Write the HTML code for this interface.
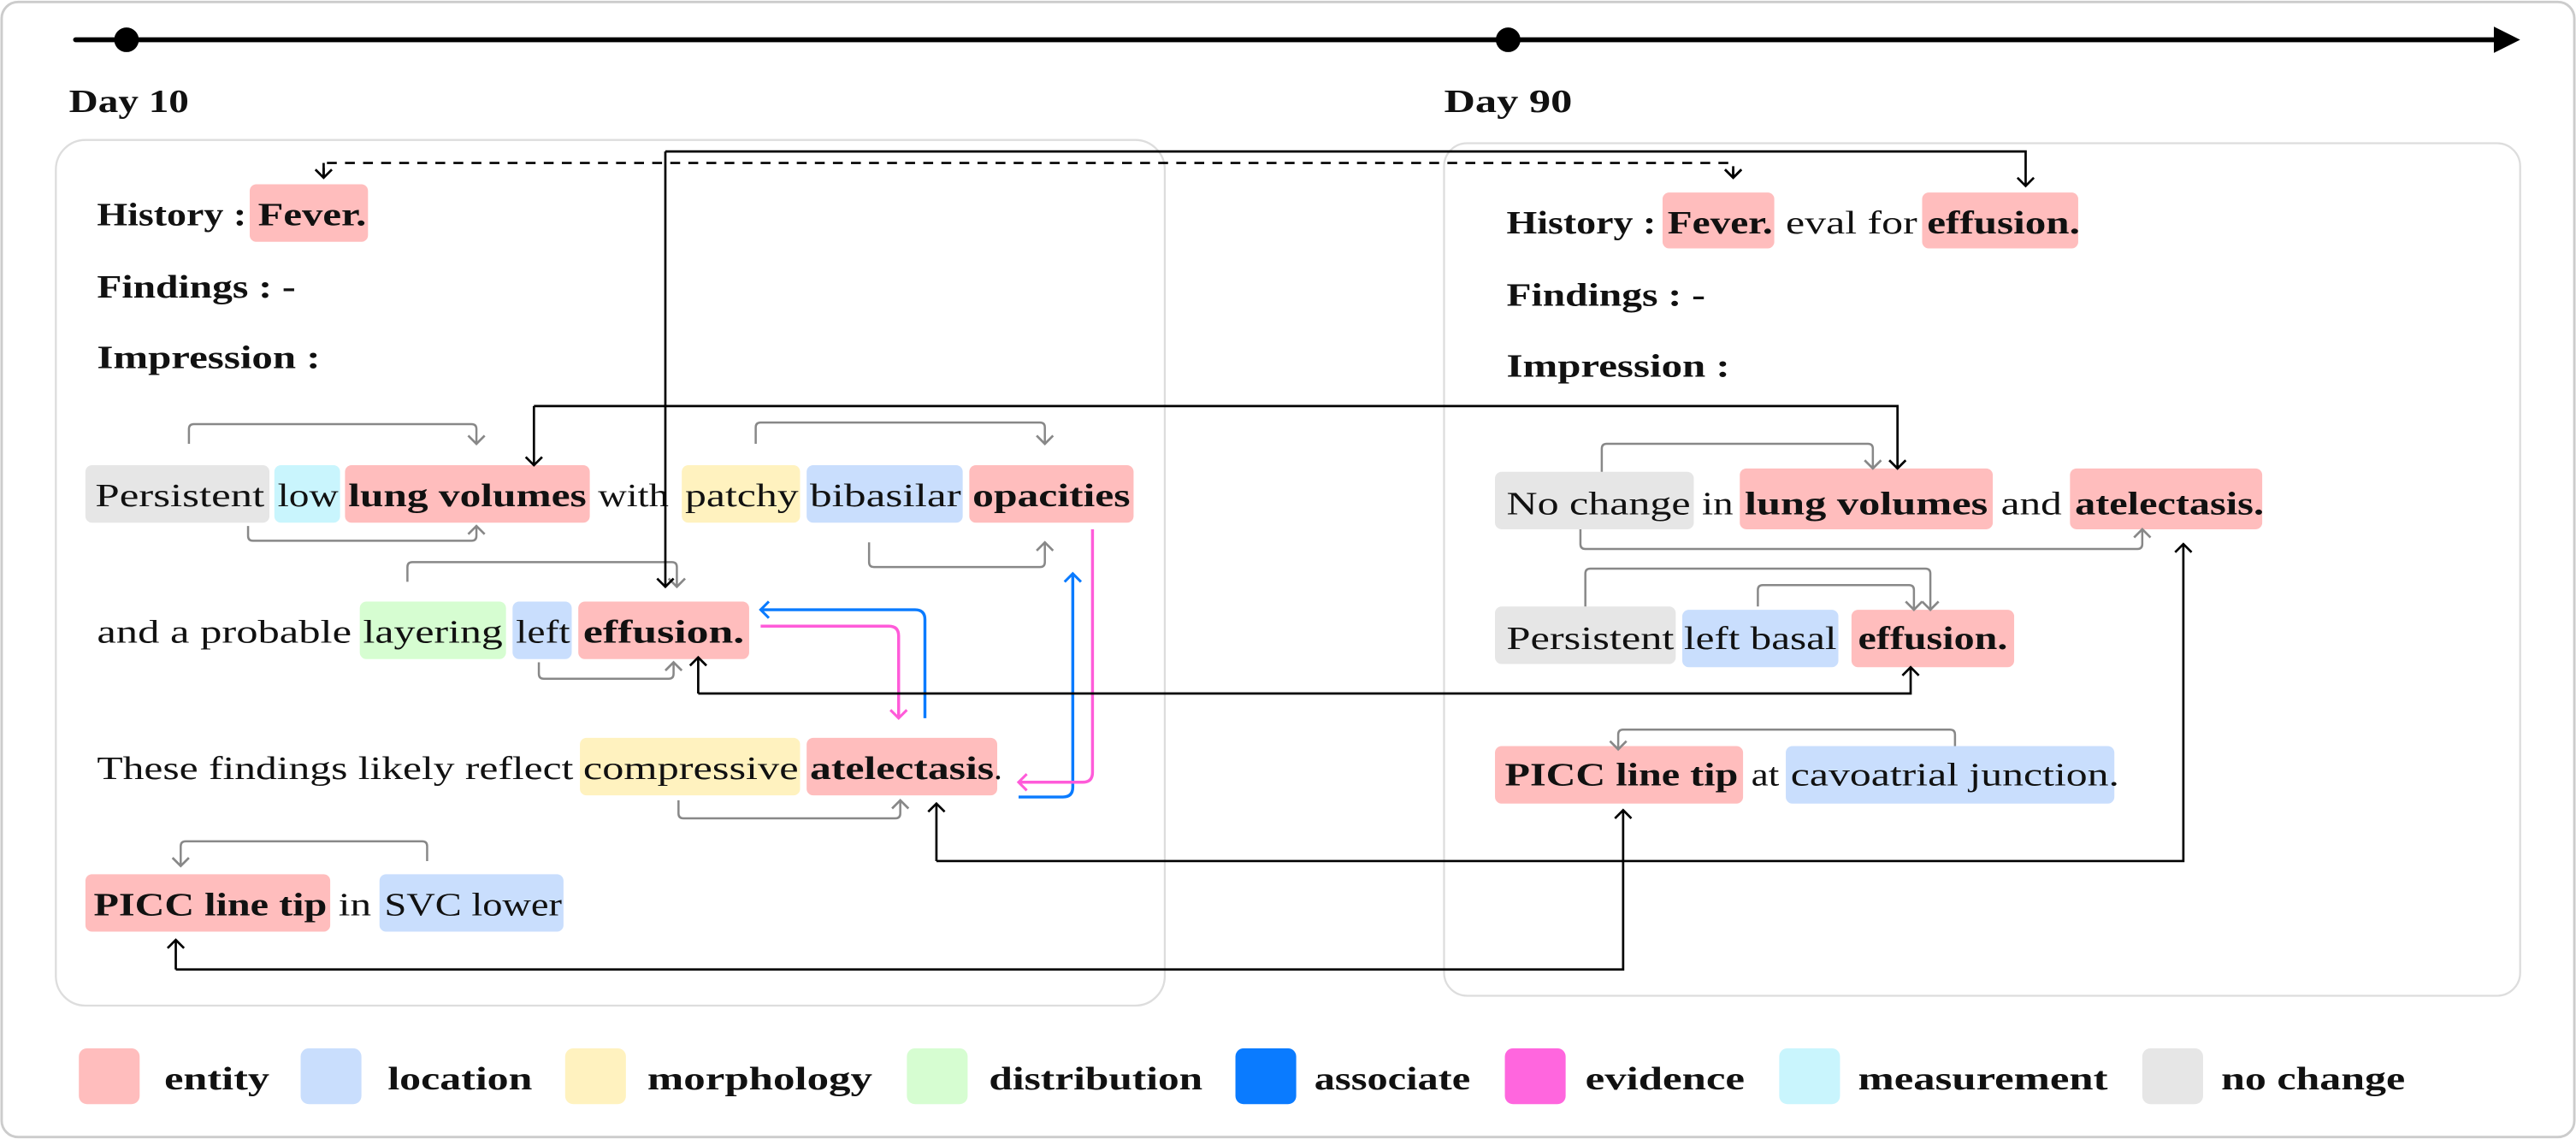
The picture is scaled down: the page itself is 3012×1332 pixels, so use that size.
<!DOCTYPE html>
<html><head><meta charset="utf-8"><style>
html,body{margin:0;padding:0;background:#fff;}
svg{display:block;}
text{font-family:"Liberation Serif",serif;font-size:20px;fill:#111;}
.b{font-weight:bold;}
.lg{font-weight:bold;font-size:20px;}
</style></head><body>
<svg width="3012" height="1332" viewBox="0 0 1568 693" xmlns="http://www.w3.org/2000/svg">
<defs>
<marker id="ak" markerUnits="userSpaceOnUse" markerWidth="14" markerHeight="14" refX="7" refY="7" orient="auto"><path d="M2,2 L7,7 L2,12" fill="none" stroke="#000" stroke-width="1.4"/></marker>
<marker id="ag" markerUnits="userSpaceOnUse" markerWidth="14" markerHeight="14" refX="7" refY="7" orient="auto"><path d="M2,2 L7,7 L2,12" fill="none" stroke="#888" stroke-width="1.4"/></marker>
<marker id="ab" markerUnits="userSpaceOnUse" markerWidth="14" markerHeight="14" refX="7" refY="7" orient="auto"><path d="M2,2 L7,7 L2,12" fill="none" stroke="#0a7bff" stroke-width="1.6"/></marker>
<marker id="am" markerUnits="userSpaceOnUse" markerWidth="14" markerHeight="14" refX="7" refY="7" orient="auto"><path d="M2,2 L7,7 L2,12" fill="none" stroke="#ff5bd9" stroke-width="1.6"/></marker>
</defs>
<rect x="1" y="1" width="1566" height="691" rx="10" fill="#fff" stroke="#ccc" stroke-width="1.5"/>
<!-- timeline -->
<line x1="46" y1="24" x2="1520" y2="24" stroke="#000" stroke-width="3" stroke-linecap="round"/>
<polygon points="1518,16 1534,24 1518,32" fill="#000"/>
<circle cx="77" cy="24" r="7.5" fill="#000"/>
<circle cx="918" cy="24" r="7.5" fill="#000"/>
<text x="42" y="68" class="b" textLength="73" lengthAdjust="spacingAndGlyphs">Day 10</text>
<text x="879" y="68" class="b" textLength="78" lengthAdjust="spacingAndGlyphs">Day 90</text>
<!-- panels -->
<rect x="34" y="85" width="675" height="527" rx="18" fill="none" stroke="#ddd" stroke-width="1.2"/>
<rect x="879" y="87" width="655" height="519" rx="14" fill="none" stroke="#ddd" stroke-width="1.2"/>

<!-- LEFT boxes -->
<g>
<rect x="152" y="112" width="72" height="35" rx="4" fill="#ffbdbd"/>
<rect x="52" y="283" width="112" height="35" rx="4" fill="#e6e6e6"/>
<rect x="167" y="283" width="40" height="35" rx="4" fill="#c9f5fd"/>
<rect x="210" y="283" width="149" height="35" rx="4" fill="#ffbdbd"/>
<rect x="415" y="283" width="72" height="35" rx="4" fill="#fff2bf"/>
<rect x="491" y="283" width="95" height="35" rx="4" fill="#c9defd"/>
<rect x="590" y="283" width="100" height="35" rx="4" fill="#ffbdbd"/>
<rect x="219" y="366" width="89" height="35" rx="4" fill="#d6fdd1"/>
<rect x="312" y="366" width="36" height="35" rx="4" fill="#c9defd"/>
<rect x="352" y="366" width="104" height="35" rx="4" fill="#ffbdbd"/>
<rect x="353" y="449" width="134" height="35" rx="4" fill="#fff2bf"/>
<rect x="491" y="449" width="116" height="35" rx="4" fill="#ffbdbd"/>
<rect x="52" y="532" width="149" height="35" rx="4" fill="#ffbdbd"/>
<rect x="231" y="532" width="112" height="35" rx="4" fill="#c9defd"/>
</g>
<text x="59" y="137" class="b" textLength="91" lengthAdjust="spacingAndGlyphs">History :</text>
<text x="157" y="137" class="b" textLength="66" lengthAdjust="spacingAndGlyphs">Fever.</text>
<text x="59" y="181" class="b" textLength="121" lengthAdjust="spacingAndGlyphs">Findings : -</text>
<text x="59" y="224" class="b" textLength="136" lengthAdjust="spacingAndGlyphs">Impression :</text>

<text x="58" y="308" textLength="103" lengthAdjust="spacingAndGlyphs">Persistent</text>
<text x="169" y="308" textLength="37" lengthAdjust="spacingAndGlyphs">low</text>
<text x="212" y="308" class="b" textLength="145" lengthAdjust="spacingAndGlyphs">lung volumes</text>
<text x="364" y="308" textLength="43" lengthAdjust="spacingAndGlyphs">with</text>
<text x="417" y="308" textLength="69" lengthAdjust="spacingAndGlyphs">patchy</text>
<text x="493" y="308" textLength="92" lengthAdjust="spacingAndGlyphs">bibasilar</text>
<text x="592" y="308" class="b" textLength="96" lengthAdjust="spacingAndGlyphs">opacities</text>

<text x="59" y="391" textLength="155" lengthAdjust="spacingAndGlyphs">and a probable</text>
<text x="221" y="391" textLength="85" lengthAdjust="spacingAndGlyphs">layering</text>
<text x="314" y="391" textLength="33" lengthAdjust="spacingAndGlyphs">left</text>
<text x="355" y="391" class="b" textLength="98" lengthAdjust="spacingAndGlyphs">effusion.</text>

<text x="59" y="474" textLength="290" lengthAdjust="spacingAndGlyphs">These findings likely reflect</text>
<text x="355" y="474" textLength="131" lengthAdjust="spacingAndGlyphs">compressive</text>
<text x="493" y="474" class="b" textLength="112" lengthAdjust="spacingAndGlyphs">atelectasis</text>
<text x="605" y="474">.</text>

<text x="57" y="557" class="b" textLength="142" lengthAdjust="spacingAndGlyphs">PICC line tip</text>
<text x="206" y="557" textLength="20" lengthAdjust="spacingAndGlyphs">in</text>
<text x="234" y="557" textLength="108" lengthAdjust="spacingAndGlyphs">SVC lower</text>

<!-- RIGHT boxes -->
<rect x="1012" y="117" width="68" height="34" rx="4" fill="#ffbdbd"/>
<rect x="1170" y="117" width="95" height="34" rx="4" fill="#ffbdbd"/>
<rect x="910" y="287" width="121" height="35" rx="4" fill="#e6e6e6"/>
<rect x="1059" y="285" width="154" height="37" rx="4" fill="#ffbdbd"/>
<rect x="1260" y="285" width="117" height="37" rx="4" fill="#ffbdbd"/>
<rect x="910" y="369" width="110" height="35" rx="4" fill="#e6e6e6"/>
<rect x="1024" y="371" width="95" height="35" rx="4" fill="#c9defd"/>
<rect x="1127" y="371" width="99" height="35" rx="4" fill="#ffbdbd"/>
<rect x="910" y="454" width="151" height="35" rx="4" fill="#ffbdbd"/>
<rect x="1087" y="454" width="200" height="35" rx="4" fill="#c9defd"/>

<text x="917" y="142" class="b" textLength="91" lengthAdjust="spacingAndGlyphs">History :</text>
<text x="1015" y="142" class="b" textLength="64" lengthAdjust="spacingAndGlyphs">Fever.</text>
<text x="1087" y="142" textLength="80" lengthAdjust="spacingAndGlyphs">eval for</text>
<text x="1173" y="142" class="b" textLength="93" lengthAdjust="spacingAndGlyphs">effusion.</text>
<text x="917" y="186" class="b" textLength="121" lengthAdjust="spacingAndGlyphs">Findings : -</text>
<text x="917" y="229" class="b" textLength="136" lengthAdjust="spacingAndGlyphs">Impression :</text>

<text x="917" y="313" textLength="112" lengthAdjust="spacingAndGlyphs">No change</text>
<text x="1036" y="313" textLength="19" lengthAdjust="spacingAndGlyphs">in</text>
<text x="1062" y="313" class="b" textLength="148" lengthAdjust="spacingAndGlyphs">lung volumes</text>
<text x="1218" y="313" textLength="37" lengthAdjust="spacingAndGlyphs">and</text>
<text x="1263" y="313" class="b" textLength="115" lengthAdjust="spacingAndGlyphs">atelectasis.</text>

<text x="917" y="395" textLength="102" lengthAdjust="spacingAndGlyphs">Persistent</text>
<text x="1025" y="395" textLength="93" lengthAdjust="spacingAndGlyphs">left basal</text>
<text x="1131" y="395" class="b" textLength="91" lengthAdjust="spacingAndGlyphs">effusion.</text>

<text x="916" y="478" class="b" textLength="142" lengthAdjust="spacingAndGlyphs">PICC line tip</text>
<text x="1066" y="478" textLength="17" lengthAdjust="spacingAndGlyphs">at</text>
<text x="1090" y="478" textLength="200" lengthAdjust="spacingAndGlyphs">cavoatrial junction.</text>

<!-- gray relation arrows -->
<g fill="none" stroke="#888" stroke-width="1.3">
<path d="M115,270 V261 q0,-3 3,-3 H287 q3,0 3,3 V270" marker-end="url(#ag)"/>
<path d="M151,320 V326 q0,3 3,3 H287 q3,0 3,-3 V320" marker-end="url(#ag)"/>
<path d="M460,270 V260 q0,-3 3,-3 H633 q3,0 3,3 V270" marker-end="url(#ag)"/>
<path d="M529,330 V342 q0,3 3,3 H633 q3,0 3,-3 V330" marker-end="url(#ag)"/>
<path d="M248,354 V345 q0,-3 3,-3 H409 q3,0 3,3 V357" marker-end="url(#ag)"/>
<path d="M328,403 V410 q0,3 3,3 H407 q3,0 3,-3 V403" marker-end="url(#ag)"/>
<path d="M413,487 V495 q0,3 3,3 H545 q3,0 3,-3 V487" marker-end="url(#ag)"/>
<path d="M260,524 V515 q0,-3 -3,-3 H113 q-3,0 -3,3 V527" marker-end="url(#ag)"/>
<path d="M975,287 V273 q0,-3 3,-3 H1137 q3,0 3,3 V285" marker-end="url(#ag)"/>
<path d="M962,322 V331 q0,3 3,3 H1301 q3,0 3,-3 V322" marker-end="url(#ag)"/>
<path d="M965,369 V349 q0,-3 3,-3 H1172 q3,0 3,3 V371" marker-end="url(#ag)"/>
<path d="M1070,369 V359 q0,-3 3,-3 H1162 q3,0 3,3 V371" marker-end="url(#ag)"/>
<path d="M1190,454 V447 q0,-3 -3,-3 H988 q-3,0 -3,3 V456" marker-end="url(#ag)"/>
</g>

<!-- blue / magenta -->
<g fill="none" stroke-width="1.8">
<path d="M563,437 V377 q0,-6 -6,-6 H463" stroke="#0a7bff" marker-end="url(#ab)"/>
<path d="M463,381 H541 q6,0 6,6 V437" stroke="#ff5bd9" marker-end="url(#am)"/>
<path d="M620,485 H647 q6,0 6,-6 V349" stroke="#0a7bff" marker-end="url(#ab)"/>
<path d="M665,322 V470 q0,6 -6,6 H620" stroke="#ff5bd9" marker-end="url(#am)"/>
</g>

<!-- black cross-report -->
<g fill="none" stroke="#000" stroke-width="1.4">
<path d="M197,108 V99 H1055 V108" stroke-dasharray="6,5" marker-end="url(#ak)"/>
<path d="M197,99 V108" marker-end="url(#ak)"/>
<path d="M1055,103 V108" marker-end="url(#ak)"/>
<path d="M405,92 H1233 V113" marker-end="url(#ak)"/>
<path d="M405,92 V357" marker-end="url(#ak)"/>
<path d="M325,247 H1155 V285" marker-end="url(#ak)"/>
<path d="M325,247 V283" marker-end="url(#ak)"/>
<path d="M425,422 H1163 V406" marker-end="url(#ak)"/>
<path d="M425,422 V400" marker-end="url(#ak)"/>
<path d="M570,524 H1329 V331" marker-end="url(#ak)"/>
<path d="M570,524 V489" marker-end="url(#ak)"/>
<path d="M107,590 H988 V493" marker-end="url(#ak)"/>
<path d="M107,590 V572" marker-end="url(#ak)"/>
</g>

<!-- legend -->
<rect x="48" y="638" width="37" height="34" rx="5" fill="#ffbdbd"/>
<text x="100" y="663" class="lg" textLength="64" lengthAdjust="spacingAndGlyphs">entity</text>
<rect x="183" y="638" width="37" height="34" rx="5" fill="#c9defd"/>
<text x="236" y="663" class="lg" textLength="88" lengthAdjust="spacingAndGlyphs">location</text>
<rect x="344" y="638" width="37" height="34" rx="5" fill="#fff2bf"/>
<text x="394" y="663" class="lg" textLength="137" lengthAdjust="spacingAndGlyphs">morphology</text>
<rect x="552" y="638" width="37" height="34" rx="5" fill="#d6fdd1"/>
<text x="602" y="663" class="lg" textLength="130" lengthAdjust="spacingAndGlyphs">distribution</text>
<rect x="752" y="638" width="37" height="34" rx="5" fill="#0a7bff"/>
<text x="800" y="663" class="lg" textLength="95" lengthAdjust="spacingAndGlyphs">associate</text>
<rect x="916" y="638" width="37" height="34" rx="5" fill="#ff66de"/>
<text x="965" y="663" class="lg" textLength="97" lengthAdjust="spacingAndGlyphs">evidence</text>
<rect x="1083" y="638" width="37" height="34" rx="5" fill="#c9f5fd"/>
<text x="1131" y="663" class="lg" textLength="152" lengthAdjust="spacingAndGlyphs">measurement</text>
<rect x="1304" y="638" width="37" height="34" rx="5" fill="#e6e6e6"/>
<text x="1352" y="663" class="lg" textLength="112" lengthAdjust="spacingAndGlyphs">no change</text>
</svg>
</body></html>
